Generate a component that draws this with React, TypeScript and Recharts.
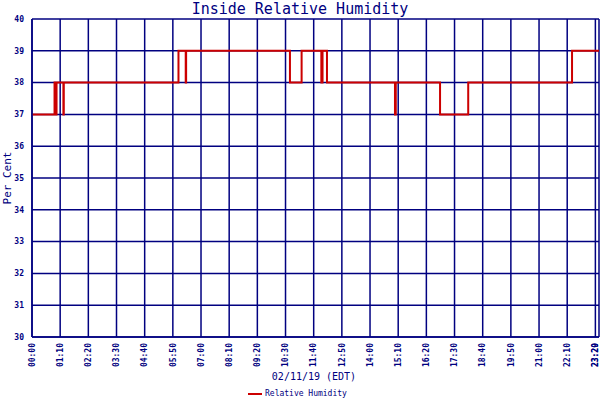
import React from 'react';
import { LineChart, Line, XAxis, YAxis, CartesianGrid } from 'recharts';

// minutes after midnight, 02/11/19
const minutes = [0, 56, 57, 58, 60, 61, 78, 79, 364, 382, 383, 641, 670, 719, 722, 733, 902, 904, 1014, 1084, 1342, 1409];
const humidity = [37, 38, 37, 38, 37, 38, 37, 38, 39, 38, 39, 38, 39, 38, 39, 38, 37, 38, 37, 38, 39, 39];

const xTicks = [0, 70, 140, 210, 280, 350, 420, 490, 560, 630, 700, 770, 840, 910, 980, 1050, 1120, 1190, 1260, 1330, 1400, 1409];
const yTicks = [30, 31, 32, 33, 34, 35, 36, 37, 38, 39, 40];

const data = minutes.map((m, i) => ({ t: m, rh: humidity[i] }));

const navy = '#000080';
const mono = '"DejaVu Sans Mono", "Liberation Mono", monospace';

const fmt = (m: number) => {
  const h = Math.floor(m / 60);
  const mm = m % 60;
  return `${String(h).padStart(2, '0')}:${String(mm).padStart(2, '0')}`;
};

const TimeTick = (props: any) => {
  const { x, y, payload } = props;
  // keep the last label inside the picture
  const px = Math.min(x, 595);
  return (
    <text
      x={px}
      y={y}
      transform={`rotate(-90, ${px}, ${y})`}
      textAnchor="end"
      dy="0.35em"
      fontSize={8}
      fontWeight="bold"
      fontFamily={mono}
      fill={navy}
    >
      {fmt(payload.value)}
    </text>
  );
};

export default function App() {
  return (
    <div style={{ position: 'absolute', left: 0, top: 0, width: 600, height: 400, background: '#fff' }}>
      <div style={{ position: 'absolute', top: 0, width: 600, textAlign: 'center', fontFamily: mono, fontSize: 15, color: navy }}>
        Inside Relative Humidity
      </div>
      <div
        style={{
          position: 'absolute', left: 7, top: 178, transform: 'translate(-50%, -50%) rotate(-90deg)',
          fontFamily: mono, fontSize: 11, color: navy, whiteSpace: 'nowrap',
        }}
      >
        Per Cent
      </div>
      <LineChart width={600} height={400} data={data} margin={{ top: 19, right: 1, left: 0, bottom: 0 }}>
        <CartesianGrid stroke={navy} strokeWidth={1.5} fill="#fff" verticalValues={xTicks} horizontalValues={yTicks} />
        <XAxis
          dataKey="t"
          type="number"
          domain={[0, 1409]}
          ticks={xTicks}
          interval={0}
          height={63}
          tick={<TimeTick />}
          tickLine={false}
          tickSize={0}
          tickMargin={6}
          stroke={navy}
          strokeWidth={1.5}
        />
        <YAxis
          type="number"
          domain={[30, 40]}
          ticks={yTicks}
          interval={0}
          width={32}
          tickLine={false}
          tickSize={0}
          tickMargin={8}
          stroke={navy}
          strokeWidth={1.5}
          tick={{ fontSize: 8, fontWeight: 'bold', fontFamily: mono, fill: navy }}
        />
        <Line
          type="stepAfter"
          dataKey="rh"
          stroke="#cc0000"
          strokeWidth={2}
          dot={false}
          isAnimationActive={false}
        />
      </LineChart>
      <div style={{ position: 'absolute', top: 371, width: 600, left: 14, textAlign: 'center', fontFamily: mono, fontSize: 10, color: navy }}>
        02/11/19 (EDT)
      </div>
      <div style={{ position: 'absolute', top: 389, left: 248, display: 'flex', alignItems: 'center', fontFamily: mono, fontSize: 8, color: navy }}>
        <span style={{ display: 'inline-block', width: 14, height: 2, background: '#cc0000', marginRight: 3 }} />
        Relative Humidity
      </div>
    </div>
  );
}
